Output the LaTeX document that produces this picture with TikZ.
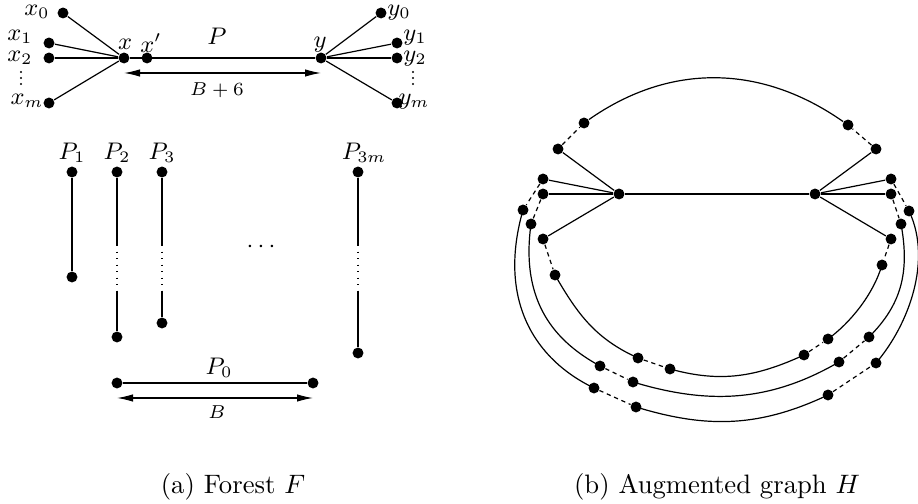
\documentclass[tikz,border=0pt]{standalone}
\usetikzlibrary{arrows.meta}
\begin{document}
\begin{tikzpicture}[x=0.375pt,y=-0.375pt,
  vtx/.style={circle,fill=black,inner sep=0pt,minimum size=4.1pt},
  tinydot/.style={circle,fill=black,inner sep=0pt,minimum size=0.9pt},
  lbl/.style={inner sep=0pt,font=\small},
  dimlbl/.style={inner sep=0pt,font=\fontsize{7.5}{9}\selectfont},
  edge/.style={line width=0.45pt},
  dsh/.style={line width=0.45pt,dash pattern=on 1.6pt off 1.4pt},
  dimarrow/.style={line width=0.45pt,{Latex[length=6pt,width=2.8pt]}-{Latex[length=6pt,width=2.8pt]}}
]
\useasboundingbox (0,0) rectangle (918,504);
\clip (0,0) rectangle (918,504);
% ---------------- (a) Forest F ----------------
\node[vtx] (x0) at (63,13) {};
\node[vtx] (x1) at (49,43) {};
\node[vtx] (x2) at (49,58) {};
\node[vtx] (xm) at (49,103) {};
\node[vtx] (x) at (124,58) {};
\node[vtx] (xp) at (147,58) {};
\node[vtx] (y) at (321,58) {};
\node[vtx] (y0) at (381,13) {};
\node[vtx] (y1) at (397,43) {};
\node[vtx] (y2) at (397,58) {};
\node[vtx] (ym) at (397,103) {};
\foreach \v in {x0,x1,x2,xm} \draw[edge] (x) -- (\v);
\foreach \v in {y0,y1,y2,ym} \draw[edge] (y) -- (\v);
\draw[edge] (x) -- (y);
\node[lbl] (lx0) at (37,12) {$x_0$};
\node[lbl] (lx1) at (20,37) {$x_1$};
\node[lbl] (lx2) at (20,58) {$x_2$};
\node[tinydot] (vx1) at (21,72) {};
\node[tinydot] (vx2) at (21,78) {};
\node[tinydot] (vx3) at (21,84) {};
\node[lbl] (lxm) at (27,101) {$x_m$};
\node[lbl] (lx) at (125,44) {$x$};
\node[lbl] (lxp) at (151,43) {$x'$};
\node[lbl] (lP) at (217,36) {$P$};
\node[lbl] (ly) at (320,45) {$y$};
\node[lbl] (ly0) at (399,13) {$y_0$};
\node[lbl] (ly1) at (415,38) {$y_1$};
\node[lbl] (ly2) at (415,59) {$y_2$};
\node[tinydot] (vy1) at (413,72) {};
\node[tinydot] (vy2) at (413,78) {};
\node[tinydot] (vy3) at (413,84) {};
\node[lbl] (lym) at (414,102) {$y_m$};
\coordinate (ba) at (124,73);
\coordinate (bb) at (321,73);
\draw[dimarrow] (ba) -- (bb);
\node[dimlbl] (lB6) at (217,90) {$B+6$};
% paths P1..P3m
\node[lbl] (lP1) at (72,153) {$P_1$};
\node[lbl] (lP2) at (117,153) {$P_2$};
\node[lbl] (lP3) at (162,153) {$P_3$};
\node[lbl] (lP3m) at (364,153) {$P_{3m}$};
\node[vtx] (p1t) at (72,172) {};
\node[vtx] (p1b) at (72,277) {};
\draw[edge] (p1t) -- (p1b);
\node[vtx] (p2t) at (117,172) {};
\node[vtx] (p2b) at (117,337) {};
\coordinate (p2u) at (117,245);
\coordinate (p2l) at (117,291);
\draw[edge] (p2t) -- (p2u);
\draw[line width=0.45pt,dotted] (p2u) -- (p2l);
\draw[edge] (p2l) -- (p2b);
\node[vtx] (p3t) at (162,172) {};
\node[vtx] (p3b) at (162,323) {};
\coordinate (p3u) at (162,245);
\coordinate (p3l) at (162,291);
\draw[edge] (p3t) -- (p3u);
\draw[line width=0.45pt,dotted] (p3u) -- (p3l);
\draw[edge] (p3l) -- (p3b);
\node[vtx] (pmt) at (358,172) {};
\node[vtx] (pmb) at (358,353) {};
\coordinate (pmu) at (358,245);
\coordinate (pml) at (358,291);
\draw[edge] (pmt) -- (pmu);
\draw[line width=0.45pt,dotted] (pmu) -- (pml);
\draw[edge] (pml) -- (pmb);
\node[lbl] (ldots) at (261,247) {$\cdots$};
% P0
\node[vtx] (p0a) at (117,383) {};
\node[vtx] (p0b) at (313,383) {};
\draw[edge] (p0a) -- (p0b);
\node[lbl] (lP0) at (219,368) {$P_0$};
\coordinate (b0a) at (117,398);
\coordinate (b0b) at (313,398);
\draw[dimarrow] (b0a) -- (b0b);
\node[dimlbl] (lB) at (217,412) {$B$};
\node[inner sep=0pt] (capa) at (233,487) {(a) Forest $F$};
% ---------------- (b) Augmented graph H ----------------
\node[vtx] (hL) at (619,194) {};
\node[vtx] (hR) at (815,194) {};
\node[vtx] (a1) at (558,149) {};
\node[vtx] (a2) at (543,179) {};
\node[vtx] (a3) at (543,194) {};
\node[vtx] (a4) at (543,239) {};
\node[vtx] (b1) at (876,149) {};
\node[vtx] (b2) at (891,179) {};
\node[vtx] (b3) at (891,194) {};
\node[vtx] (b4) at (891,239) {};
\node[vtx] (t1) at (584,123) {};
\node[vtx] (t2) at (848,125) {};
\node[vtx] (l1) at (523,210) {};
\node[vtx] (l2) at (531,224) {};
\node[vtx] (l3) at (555,275) {};
\node[vtx] (r1) at (909,211) {};
\node[vtx] (r2) at (901,224) {};
\node[vtx] (r3) at (882,265) {};
\node[vtx] (i1) at (638,358) {};
\node[vtx] (i2) at (670,369) {};
\node[vtx] (i3) at (804,355) {};
\node[vtx] (i4) at (828,339) {};
\node[vtx] (m1) at (600,366) {};
\node[vtx] (m2) at (633,382) {};
\node[vtx] (m3) at (839,362) {};
\node[vtx] (m4) at (869,337) {};
\node[vtx] (o1) at (594,388) {};
\node[vtx] (o2) at (636,407) {};
\node[vtx] (o3) at (828,395) {};
\node[vtx] (o4) at (876,363) {};
\draw[edge] (hL) -- (hR);
\foreach \v in {a1,a2,a3,a4} \draw[edge] (hL) -- (\v);
\foreach \v in {b1,b2,b3,b4} \draw[edge] (hR) -- (\v);
\draw[dsh] (a1) -- (t1);
\draw[dsh] (b1) -- (t2);
\draw[dsh] (a2) -- (l1);
\draw[dsh] (a3) -- (l2);
\draw[dsh] (a4) -- (l3);
\draw[dsh] (b2) -- (r1);
\draw[dsh] (b3) -- (r2);
\draw[dsh] (b4) -- (r3);
\draw[dsh] (i1) -- (i2);
\draw[dsh] (i3) -- (i4);
\draw[dsh] (m1) -- (m2);
\draw[dsh] (m3) -- (m4);
\draw[dsh] (o1) -- (o2);
\draw[dsh] (o3) -- (o4);
\draw[edge] (t1) to[out=35,in=145] (t2);
% inner ring
\draw[edge] (l3.center) .. controls +(23,40) and +(-42,-19) .. (i1.center);
\draw[edge] (i2.center) .. controls +(51,14) and +(-48,22) .. (i3.center);
\draw[edge] (i4.center) .. controls +(22,-16) and +(-9,30) .. (r3.center);
% middle ring
\draw[edge] (l2.center) .. controls +(-11,79) and +(-44,-24) .. (m1.center);
\draw[edge] (m2.center) .. controls +(76,23) and +(-69,40) .. (m3.center);
\draw[edge] (m4.center) .. controls +(32,-32) and +(9,49) .. (r2.center);
% outer ring
\draw[edge] (l1.center) .. controls +(-26,91) and +(-58.5,-28) .. (o1.center);
\draw[edge] (o2.center) .. controls +(72,22) and +(-68,32) .. (o3.center);
\draw[edge] (o4.center) .. controls +(32.5,-38) and +(23.6,49.5) .. (r1.center);
\node[inner sep=0pt] (capb) at (717,487) {(b) Augmented graph $H$};
\end{tikzpicture}
\end{document}
